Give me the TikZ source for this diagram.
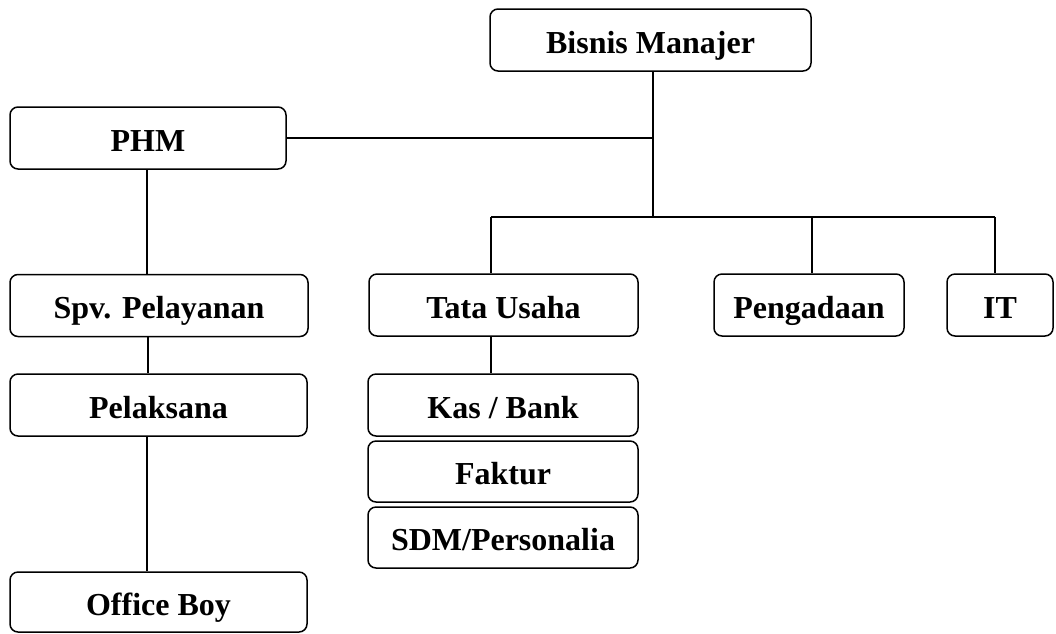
\documentclass[tikz,border=0pt]{standalone}
\usepackage{fontspec}
\setmainfont{Liberation Serif}
\usetikzlibrary{positioning,calc}

\begin{document}
\begin{tikzpicture}[
  x=1pt, y=-1pt,
  unit/.style={rounded corners=8pt, draw=black, line width=1.5pt, fill=white,
               align=center, font=\fontsize{32}{38}\selectfont\bfseries,
               inner sep=0pt, text height=33pt, text depth=7pt, minimum height=62pt},
  wire/.style={line width=1.4pt, draw=black},
]
\useasboundingbox (0,0) rectangle (1056,633);

% ── Top management ────────────────────────────────────────────────────────────
\node[unit, minimum width=321pt] (bm)  at (650.5,40) {Bisnis Manajer};
\node[unit, minimum width=276pt] (phm) at (148,138)  {PHM};

% ── Second level ──────────────────────────────────────────────────────────────
\node[unit, minimum width=298pt] (spv)  at (159,305.5) {Spv. Pelayanan};
\node[unit, minimum width=269pt] (tu)   at (503.5,305) {Tata Usaha};
\node[unit, minimum width=190pt] (peng) at (809,305)   {Pengadaan};
\node[unit, minimum width=106pt] (it)   at (1000,305)  {IT};

% ── Staff ─────────────────────────────────────────────────────────────────────
\node[unit, minimum width=297pt] (pel) at (158.5,405) {Pelaksana};
\node[unit, minimum width=297pt, minimum height=60pt] (ob) at (158.5,602) {Office Boy};
\node[unit, minimum width=270pt] (kas) at (503,405) {Kas / Bank};
\node[unit, minimum width=270pt, minimum height=61pt] (fak) at (503,471.5) {Faktur};
\node[unit, minimum width=270pt, minimum height=61pt] (sdm) at (503,537.5) {SDM/Personalia};

% ── Connectors ────────────────────────────────────────────────────────────────
\coordinate (trunk) at (653,217);
\coordinate (dtu)   at (491,217);
\coordinate (dpeng) at (812,217);
\coordinate (dit)   at (995,217);

\draw[wire] (bm.south -| trunk) -- (trunk);
\draw[wire] (phm.east) -- (phm.east -| trunk);
\draw[wire] (dtu) -- (dit);
\foreach \n/\d in {tu/dtu,peng/dpeng,it/dit}{ \draw[wire] (\d) -- (\d |- \n.north); }

\draw[wire] ($(phm.south)+(-1,0)$) -- ($(phm.south |- spv.north)+(-1,0)$);
\draw[wire] (spv.south -| phm.south) -- (pel.north -| phm.south);
\draw[wire] ($(pel.south -| phm.south)+(-1,0)$) -- ($(ob.north -| phm.south)+(-1,0)$);
\draw[wire] (tu.south -| dtu) -- (kas.north -| dtu);

\end{tikzpicture}
\end{document}
